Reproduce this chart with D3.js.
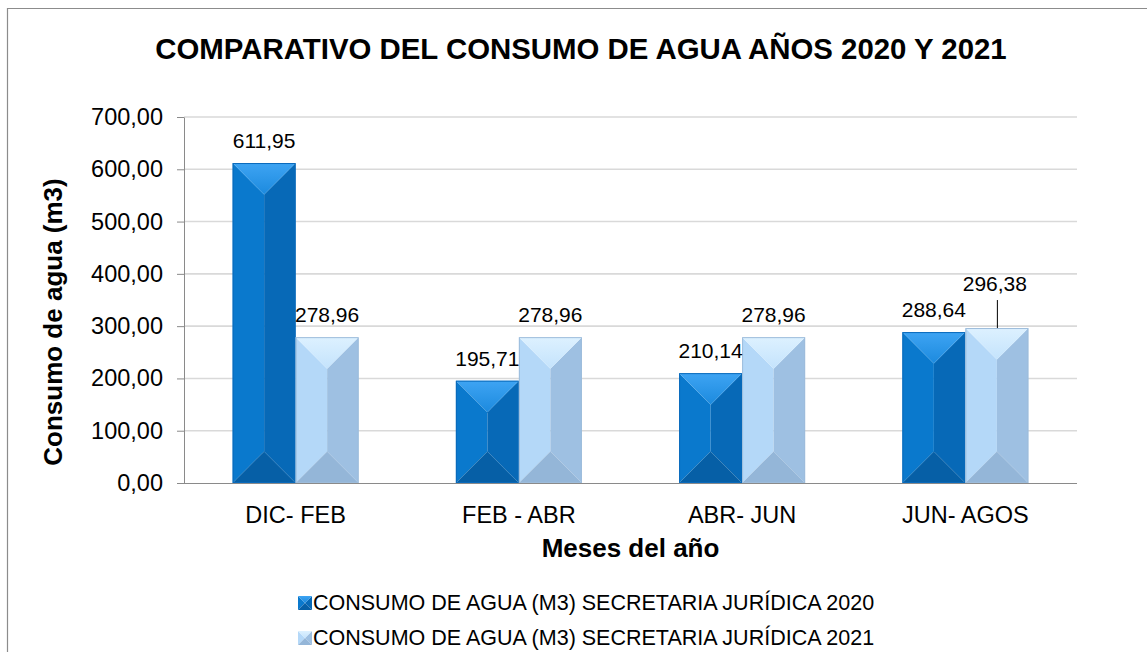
<!DOCTYPE html>
<html>
<head>
<meta charset="utf-8">
<script src="https://cdn.jsdelivr.net/npm/d3@7"></script>
<style>
  html, body { margin: 0; padding: 0; background: #ffffff; }
  svg { display: block; font-family: "Liberation Sans", Arial, sans-serif; }
</style>
</head>
<body>
<svg id="chart" width="1147" height="652"></svg>
<script>
// ---- data ----
const categories = ["DIC- FEB", "FEB - ABR", "ABR- JUN", "JUN- AGOS"];
const seriesNames = [
  "CONSUMO DE AGUA (M3) SECRETARIA JURÍDICA 2020",
  "CONSUMO DE AGUA (M3) SECRETARIA JURÍDICA 2021"
];
const values2020 = [611.95, 195.71, 210.14, 288.64];
const values2021 = [278.96, 278.96, 278.96, 296.38];
const yTicks = [0, 100, 200, 300, 400, 500, 600, 700];
const chartTitle = "COMPARATIVO DEL CONSUMO DE AGUA AÑOS 2020 Y 2021";
const xTitle = "Meses del año";
const yTitle = "Consumo de agua (m3)";

// ---- layout ----
const svg = d3.select("#chart");
const plot = { left: 184, right: 1077, top: 117, bottom: 483 };
const fmt = v => v.toFixed(2).replace(".", ",");

const series = [values2020, values2021];
const palettes = [
  { top: ["#3ea4f3", "#1c8ade"], left: "#0a79cd", right: "#0769b7", bottom: "#065fa6", edge: "#0a6abb" },
  { top: ["#ddf1ff", "#c4e3fc"], left: "#b4d8f8", right: "#9ec0e2", bottom: "#94b6d8", edge: "#9dbcdb" }
];

const x0 = d3.scaleBand().domain(categories).range([plot.left, plot.right])
  .paddingInner(0.4356).paddingOuter(0.2178);
const x1 = d3.scaleBand().domain([0, 1]).range([0, x0.bandwidth()]).padding(0);
const y = d3.scaleLinear().domain([0, 700]).range([plot.bottom, plot.top]);

const defs = svg.append("defs");
palettes.forEach((p, i) => {
  const g = defs.append("linearGradient").attr("id", "topgrad" + i)
    .attr("x1", 0).attr("y1", 0).attr("x2", 0).attr("y2", 1);
  g.append("stop").attr("offset", "0%").attr("stop-color", p.top[0]);
  g.append("stop").attr("offset", "100%").attr("stop-color", p.top[1]);
});

// chart border (cropped on the right and bottom)
svg.append("path")
  .attr("d", "M7.5,653 L7.5,8.5 L1148,8.5")
  .attr("fill", "none").attr("stroke", "#8c8c8c").attr("stroke-width", 1.2);

// gridlines
svg.append("g").selectAll("line").data(yTicks.filter(t => t > 0)).join("line")
  .attr("x1", plot.left).attr("x2", plot.right)
  .attr("y1", d => y(d)).attr("y2", d => y(d))
  .attr("stroke", "#d9d9d9").attr("stroke-width", 1.6);

// y axis
const yAxis = svg.append("g").attr("transform", `translate(${plot.left},0)`)
  .call(d3.axisLeft(y).tickValues(yTicks).tickFormat(fmt).tickSize(7).tickSizeOuter(0));
yAxis.select(".domain").attr("stroke", "#8a8a8a");
yAxis.selectAll(".tick line").attr("stroke", "#8a8a8a");
yAxis.selectAll(".tick text").attr("font-size", 23.5).attr("fill", "#000")
  .attr("font-family", "Liberation Sans, Arial, sans-serif").attr("x", -21);

// x axis
const xAxis = svg.append("g").attr("transform", `translate(0,${plot.bottom})`)
  .call(d3.axisBottom(x0).tickSize(0).tickSizeOuter(0));
xAxis.select(".domain").attr("stroke", "#8a8a8a").attr("d", `M${plot.left},0.5H${plot.right}`);
xAxis.selectAll(".tick text").attr("font-size", 23.5).attr("fill", "#000")
  .attr("font-family", "Liberation Sans, Arial, sans-serif").attr("y", 0).attr("dy", 0)
  .attr("transform", "translate(0,40)");

// bars with bevel
function bevelParts(x, yTop, w, h) {
  const cx = x + w / 2, d = w / 2;
  const yb = yTop + h;
  return {
    top: [[x, yTop], [x + w, yTop], [cx, yTop + d]],
    bottom: [[x, yb], [x + w, yb], [cx, yb - d]],
    left: [[x, yTop], [cx, yTop + d], [cx, yb - d], [x, yb]],
    right: [[x + w, yTop], [cx, yTop + d], [cx, yb - d], [x + w, yb]]
  };
}
const line = d3.line();
const barsG = svg.append("g");
categories.forEach((c, ci) => {
  series.forEach((vals, si) => {
    const p = palettes[si];
    const bx = x0(c) + x1(si), bw = x1.bandwidth();
    const by = y(vals[ci]), bh = y(0) - y(vals[ci]);
    const parts = bevelParts(bx, by, bw, bh);
    const g = barsG.append("g");
    g.append("path").attr("d", line(parts.left) + "Z").attr("fill", p.left);
    g.append("path").attr("d", line(parts.right) + "Z").attr("fill", p.right);
    g.append("path").attr("d", line(parts.bottom) + "Z").attr("fill", p.bottom);
    g.append("path").attr("d", line(parts.top) + "Z").attr("fill", `url(#topgrad${si})`);
    g.append("rect").attr("x", bx + 0.5).attr("y", by + 0.5).attr("width", bw - 1).attr("height", bh - 1)
      .attr("fill", "none").attr("stroke", p.edge).attr("stroke-width", 1);
  });
});

// data labels
const labelOffsets = { "3-1": 37 }; // label moved up with leader line
const labelsG = svg.append("g").attr("font-size", 21).attr("text-anchor", "middle").attr("fill", "#000");
categories.forEach((c, ci) => {
  series.forEach((vals, si) => {
    const cx = x0(c) + x1(si) + x1.bandwidth() / 2;
    const top = y(vals[ci]);
    const key = ci + "-" + si;
    if (labelOffsets[key]) {
      labelsG.append("text").attr("x", cx - 2).attr("y", top - labelOffsets[key]).text(fmt(vals[ci]));
      svg.append("line").attr("x1", cx + 0.5).attr("x2", cx + 0.5)
        .attr("y1", top - labelOffsets[key] + 9).attr("y2", top)
        .attr("stroke", "#000").attr("stroke-width", 1);
    } else {
      labelsG.append("text").attr("x", cx).attr("y", top - 15).text(fmt(vals[ci]));
    }
  });
});

// titles
svg.append("text").attr("x", 581).attr("y", 59).attr("text-anchor", "middle")
  .attr("font-size", 29.4).attr("font-weight", "bold").text(chartTitle);
svg.append("text").attr("x", (plot.left + plot.right) / 2).attr("y", 557).attr("text-anchor", "middle")
  .attr("font-size", 26).attr("font-weight", "bold").text(xTitle);
svg.append("text").attr("transform", "translate(62,322) rotate(-90)").attr("text-anchor", "middle")
  .attr("font-size", 26).attr("font-weight", "bold").text(yTitle);

// legend
const legend = svg.append("g");
seriesNames.forEach((name, i) => {
  const ly = 610 + i * 35;
  const p = palettes[i];
  const sx = 298, sy = ly - 14, s = 14;
  const parts = bevelParts(sx, sy, s, s);
  legend.append("path").attr("d", line(parts.left) + "Z").attr("fill", p.left);
  legend.append("path").attr("d", line(parts.right) + "Z").attr("fill", p.right);
  legend.append("path").attr("d", line(parts.bottom) + "Z").attr("fill", p.bottom);
  legend.append("path").attr("d", line(parts.top) + "Z").attr("fill", `url(#topgrad${i})`);
  legend.append("text").attr("x", 313).attr("y", ly).attr("font-size", 21.5).attr("fill", "#000").text(name);
});
</script>
</body>
</html>
